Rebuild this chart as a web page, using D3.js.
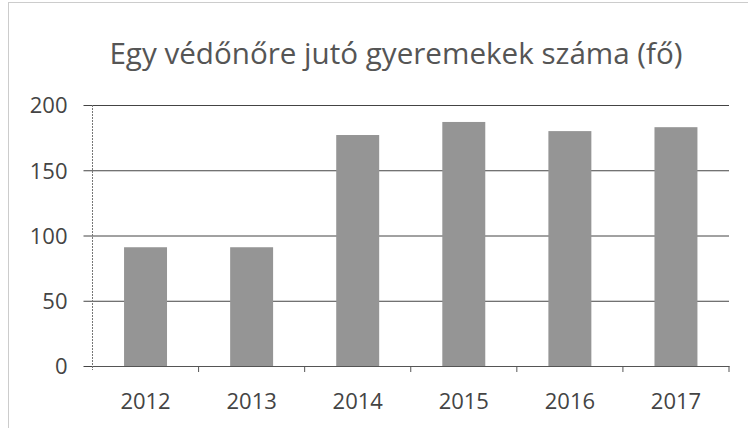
<!DOCTYPE html>
<html><head><meta charset="utf-8">
<script src="https://cdn.jsdelivr.net/npm/d3@7"></script>
<style>
html,body{margin:0;padding:0;background:#fff;}
text{font-family:"Open Sans",sans-serif;fill:#444;}
</style></head>
<body><svg id="chart" width="748" height="428"></svg>
<script>
const title = "Egy védőnőre jutó gyeremekek száma (fő)";
const years = ["2012","2013","2014","2015","2016","2017"];
const values = [91, 91, 177, 187, 180, 183];
const yTicks = [0, 50, 100, 150, 200];

const svg = d3.select("#chart");
const margin = {left: 92.5, right: 19, top: 105, bottom: 62};
const W = 748, H = 428;

svg.append("rect").attr("x", 8.5).attr("y", 2.5).attr("width", 740).attr("height", 430)
  .attr("fill", "none").attr("stroke", "#999").attr("stroke-dasharray", "1,1");

const x = d3.scaleBand().domain(years).range([margin.left, W - margin.right]).paddingInner(0.595).paddingOuter(0.2975);
const y = d3.scaleLinear().domain([0, 200]).range([H - margin.bottom, margin.top]);

svg.append("text").attr("x", 396).attr("y", 64).attr("text-anchor", "middle")
  .style("font-size", "29.6px").style("fill", "#555").text(title);

// gridlines
const yAxis = d3.axisLeft(y).tickValues(yTicks).tickSize(-(W - margin.right - margin.left)).tickPadding(25);
const gy = svg.append("g").attr("transform", `translate(${margin.left},0)`).call(yAxis);
gy.select(".domain").remove();
gy.selectAll(".tick line").attr("stroke", "#444").attr("stroke-width", 1).attr("x1", -9);
gy.selectAll(".tick text").style("font-size", "22px").style("fill", "#444").attr("dy", "0.36em");

// bars
svg.append("g").selectAll("rect").data(values).join("rect")
  .attr("x", (d, i) => x(years[i])).attr("y", d => y(d))
  .attr("width", x.bandwidth()).attr("height", d => y(0) - y(d))
  .attr("fill", "#959595");

// y axis line
svg.append("line").attr("x1", margin.left).attr("x2", margin.left)
  .attr("y1", y(200)).attr("y2", y(0) + 4).attr("stroke", "#777").attr("stroke-dasharray", "2,1");

// x axis
const step = x.step();
const xAxis = d3.axisBottom(x).tickSize(0);
const gx = svg.append("g").attr("transform", `translate(0,${y(0)})`).call(xAxis);
gx.select(".domain").attr("stroke", "#555");
gx.selectAll(".tick text").style("font-size", "22px").style("fill", "#444").attr("y", 43).attr("dy", "0");
svg.append("g").selectAll("line").data(years).join("line")
  .attr("x1", (d) => x(d) + x.bandwidth() / 2 + step / 2)
  .attr("x2", (d) => x(d) + x.bandwidth() / 2 + step / 2)
  .attr("y1", y(0)).attr("y2", y(0) + 6).attr("stroke", "#555");
</script></body></html>
